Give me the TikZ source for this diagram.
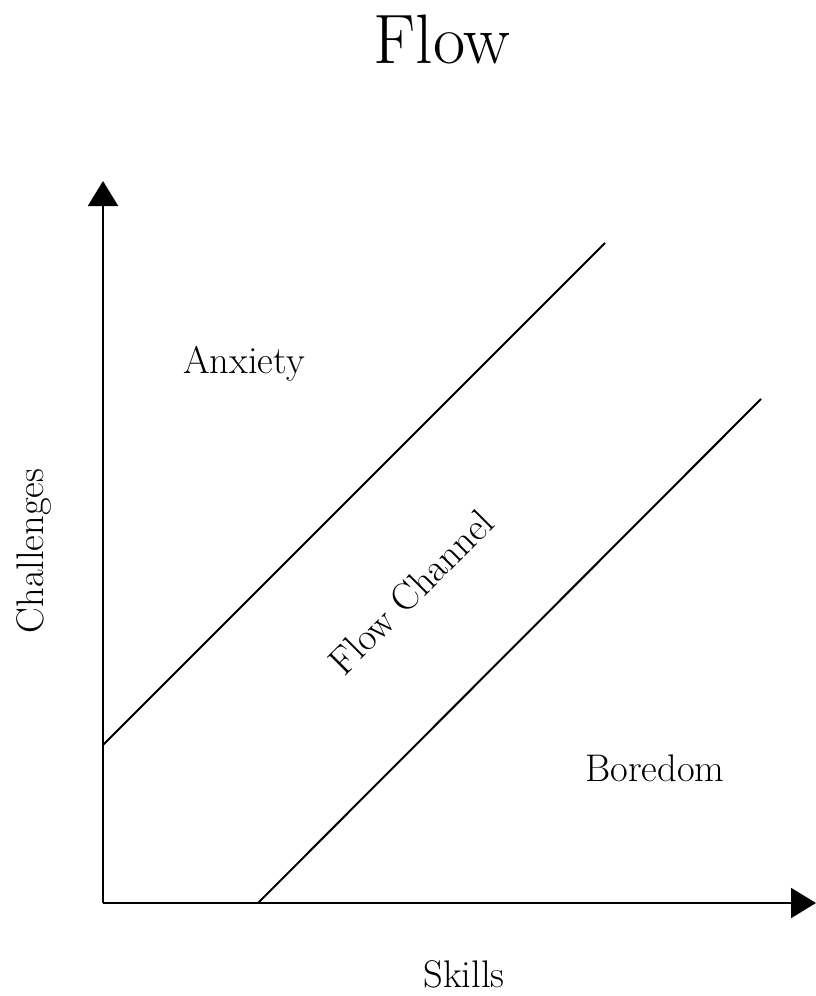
\documentclass[tikz,border=0pt]{standalone}
\usepackage{fontspec}
\usetikzlibrary{arrows.meta}
\tikzset{
  axisline/.style={line width=2pt, -{Triangle[length=25pt,width=30pt]}},
  bound/.style={line width=2pt},
  lbl/.style={font=\fontsize{38.5}{42}\selectfont, inner sep=0pt, anchor=base},
}
\begin{document}
\begin{tikzpicture}[x=1pt,y=1pt]
\useasboundingbox (0,0) rectangle (816,-996);
\coordinate (o) at (103,-903);
\coordinate (ytop) at (103,-181);
\coordinate (xend) at (816,-903);
\coordinate (a1) at (103,-745);
\coordinate (a2) at (605,-243);
\coordinate (b1) at (258,-903);
\coordinate (b2) at (761,-399);
\draw[axisline] (o) -- (ytop);
\draw[axisline] (o) -- (xend);
\draw[bound] (a1) -- (a2);
\draw[bound] (b1) -- (b2);
\node[lbl, font=\fontsize{70}{74}\selectfont] (title) at (442,-63) {Flow};
\node[lbl] (anx) at (244,-373) {Anxiety};
\node[lbl] (bor) at (655,-781) {Boredom};
\node[lbl] (skl) at (464,-987) {Skills};
\node[lbl, rotate=90] (chl) at (43,-551) {Challenges};
\node[lbl, anchor=center, rotate=45] (chan) at (411,-592) {Flow Channel};
\end{tikzpicture}
\end{document}
